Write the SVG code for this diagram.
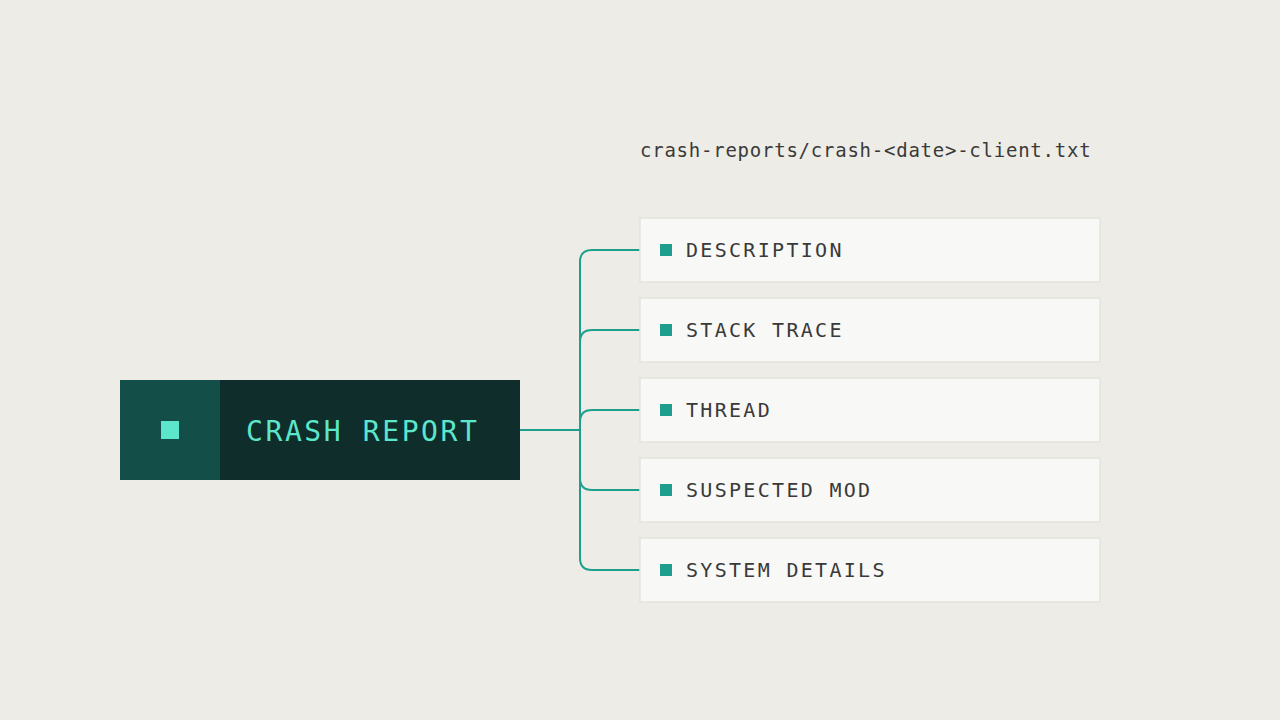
<svg xmlns="http://www.w3.org/2000/svg" width="1280" height="720" viewBox="0 0 1280 720">
<style>
.box{fill:#f8f8f6;stroke:#e4e4de;stroke-width:1.5}
.lbl{font-family:"DejaVu Sans Mono",monospace;font-size:20px;letter-spacing:2.3px;fill:#3a3a3a}
.dot{fill:#1f9e8e}
.con{fill:none;stroke:#1f9e8e;stroke-width:2}
</style>
<rect width="1280" height="720" fill="#edece6"/>
<text x="640" y="157" font-family="DejaVu Sans Mono,monospace" font-size="19" letter-spacing="0.76" fill="#3a3a3a">crash-reports/crash-&lt;date&gt;-client.txt</text>
<g id="root">
<rect x="120" y="380" width="400" height="100" fill="#0f2d2a"/>
<rect x="120" y="380" width="100" height="100" fill="#134e48"/>
<rect x="161" y="421" width="18" height="18" fill="#5ce6cc"/>
<text x="246" y="441" font-family="DejaVu Sans Mono,monospace" font-size="28" letter-spacing="2.6" fill="#5ce6cc">CRASH REPORT</text>
</g>
<g id="connectors">
<path class="con" d="M520 430H580"/>
<path class="con" d="M640 250H592Q580 250 580 262V558Q580 570 592 570H640"/>
<path class="con" d="M640 330H592Q580 330 580 342"/>
<path class="con" d="M640 410H592Q580 410 580 422"/>
<path class="con" d="M640 490H592Q580 490 580 478"/>
</g>
<g id="n1"><rect class="box" x="640" y="218" width="460" height="64"/><rect class="dot" x="660" y="244" width="12" height="12"/><text class="lbl" x="686" y="257">DESCRIPTION</text></g>
<g id="n2"><rect class="box" x="640" y="298" width="460" height="64"/><rect class="dot" x="660" y="324" width="12" height="12"/><text class="lbl" x="686" y="337">STACK TRACE</text></g>
<g id="n3"><rect class="box" x="640" y="378" width="460" height="64"/><rect class="dot" x="660" y="404" width="12" height="12"/><text class="lbl" x="686" y="417">THREAD</text></g>
<g id="n4"><rect class="box" x="640" y="458" width="460" height="64"/><rect class="dot" x="660" y="484" width="12" height="12"/><text class="lbl" x="686" y="497">SUSPECTED MOD</text></g>
<g id="n5"><rect class="box" x="640" y="538" width="460" height="64"/><rect class="dot" x="660" y="564" width="12" height="12"/><text class="lbl" x="686" y="577">SYSTEM DETAILS</text></g>
</svg>
